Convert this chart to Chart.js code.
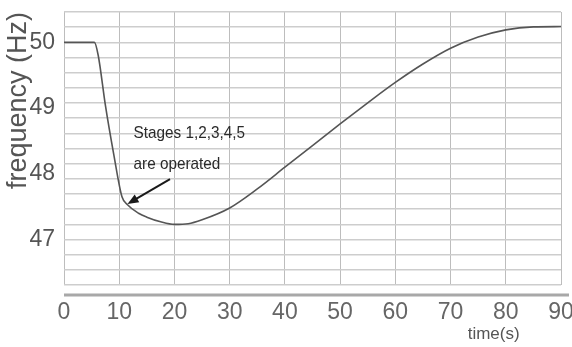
<!DOCTYPE html>
<html>
<head>
<meta charset="utf-8">
<script src="https://cdn.jsdelivr.net/npm/chart.js@4.4.1/dist/chart.umd.min.js"></script>
<style>
  html, body { margin: 0; padding: 0; background: #fff; }
  canvas { display: block; }
</style>
</head>
<body>
<canvas id="freqChart" width="572" height="347"></canvas>
<script>
// Data
const timeS = [0, 5.5, 6.2, 7.5, 9, 10.5, 11.5, 13.5, 15, 17.5, 20, 22.5, 25, 30, 35, 40, 45, 50, 55, 60, 65, 70, 75, 80, 85, 90];
const freqHz = [50, 50, 49.8, 49.04, 48.3, 47.65, 47.53, 47.4, 47.34, 47.27, 47.23, 47.24, 47.3, 47.48, 47.77, 48.1, 48.43, 48.76, 49.08, 49.39, 49.67, 49.91, 50.08, 50.19, 50.235, 50.24];
const xTicks = [0, 10, 20, 30, 40, 50, 60, 70, 80, 90];
const yTicks = [47, 48, 49, 50];

// Annotation (data coordinates)
const noteLines = ['Stages 1,2,3,4,5', 'are operated'];
const noteAt = [12.6, 48.61];
const noteLine2 = 48.15;
const arrowFrom = [19.2, 47.92];
const arrowTo = [11.5, 47.54];

// the printed grid doesn't line up with the labels: 13 rows per 3 Hz
const GRID_STEP = 3 / 13;
const Y_MAX = 50 + 2 * GRID_STEP;
const Y_MIN = 47 - 3 * GRID_STEP;

const tickFont = { family: '"Liberation Sans", Arial, sans-serif', size: 23 };

const extras = {
  id: 'extras',
  afterDraw(chart) {
    const ctx = chart.ctx;
    const xs = chart.scales.x, ys = chart.scales.y;
    const area = chart.chartArea;
    ctx.save();
    // separate x axis bar under the grid
    ctx.strokeStyle = '#a8a8a8';
    ctx.lineWidth = 3;
    ctx.beginPath();
    ctx.moveTo(area.left, area.bottom + 10);
    ctx.lineTo(area.right + 8, area.bottom + 10);
    ctx.stroke();

    // x axis title
    ctx.fillStyle = '#555';
    ctx.font = '17px "Liberation Sans", Arial, sans-serif';
    ctx.textAlign = 'center';
    ctx.textBaseline = 'middle';
    ctx.fillText('time(s)', xs.getPixelForValue(77.8), area.bottom + 49);

    // note text, a bit condensed
    ctx.fillStyle = '#2a2a2a';
    ctx.font = '17px "Liberation Sans", Arial, sans-serif';
    ctx.textAlign = 'left';
    const tx = xs.getPixelForValue(noteAt[0]);
    ctx.save();
    ctx.translate(tx, 0);
    ctx.scale(0.9, 1);
    ctx.fillText(noteLines[0], 0, ys.getPixelForValue(noteAt[1]));
    ctx.fillText(noteLines[1], 0, ys.getPixelForValue(noteLine2));
    ctx.restore();

    // arrow
    const x1 = xs.getPixelForValue(arrowFrom[0]), y1 = ys.getPixelForValue(arrowFrom[1]);
    const x2 = xs.getPixelForValue(arrowTo[0]), y2 = ys.getPixelForValue(arrowTo[1]);
    const ang = Math.atan2(y2 - y1, x2 - x1);
    ctx.strokeStyle = '#1a1a1a';
    ctx.fillStyle = '#1a1a1a';
    ctx.lineWidth = 2;
    ctx.beginPath();
    ctx.moveTo(x1, y1);
    ctx.lineTo(x2 - 8 * Math.cos(ang), y2 - 8 * Math.sin(ang));
    ctx.stroke();
    ctx.beginPath();
    ctx.moveTo(x2, y2);
    ctx.lineTo(x2 - 11 * Math.cos(ang) + 4.5 * Math.sin(ang), y2 - 11 * Math.sin(ang) - 4.5 * Math.cos(ang));
    ctx.lineTo(x2 - 11 * Math.cos(ang) - 4.5 * Math.sin(ang), y2 - 11 * Math.sin(ang) + 4.5 * Math.cos(ang));
    ctx.closePath();
    ctx.fill();
    ctx.restore();
  }
};

const freqChart = new Chart(document.getElementById('freqChart'), {
  type: 'line',
  data: {
    datasets: [{
      data: timeS.map((t, i) => ({ x: t, y: freqHz[i] })),
      borderColor: '#555',
      borderWidth: 1.6,
      pointRadius: 0,
      cubicInterpolationMode: 'monotone',
      fill: false
    }]
  },
  options: {
    responsive: false,
    animation: false,
    devicePixelRatio: 1,
    layout: { padding: { top: 12, right: 11, left: 0, bottom: 0 } },
    plugins: { legend: { display: false }, tooltip: { enabled: false } },
    scales: {
      x: {
        type: 'linear',
        min: 0,
        max: 90,
        afterBuildTicks: s => { s.ticks = xTicks.map(v => ({ value: v })); },
        afterFit: s => { s.height = 62; s.paddingLeft = 0; s.paddingRight = 0; },
        ticks: { color: '#666', font: tickFont, padding: 14, maxRotation: 0 },
        grid: { color: '#bdbdbd', lineWidth: 1, drawTicks: false },
        border: { display: false }
      },
      y: {
        position: 'left',
        min: Y_MIN,
        max: Y_MAX,
        afterBuildTicks: s => { s.ticks = yTicks.map(v => ({ value: v })); },
        afterFit: s => { s.width = 64; s.paddingTop = 0; s.paddingBottom = 0; },
        ticks: { color: '#555', font: tickFont, padding: 9 },
        grid: { display: false, drawTicks: false },
        border: { display: false },
        title: {
          display: true,
          text: 'frequency (Hz)',
          align: 'end',
          color: '#555',
          font: { family: '"Liberation Sans", Arial, sans-serif', size: 27 },
          padding: { top: 2, bottom: 0 }
        }
      },
      yg: {
        position: 'left',
        min: Y_MIN,
        max: Y_MAX,
        afterBuildTicks: s => {
          const t = [];
          for (let i = 0; i <= 18; i++) t.push({ value: Y_MAX - i * GRID_STEP });
          s.ticks = t;
        },
        afterFit: s => { s.width = 0; s.paddingTop = 0; s.paddingBottom = 0; },
        ticks: { display: false },
        grid: { color: '#cdcdcd', lineWidth: 1.6, drawTicks: false },
        border: { display: false }
      }
    }
  },
  plugins: [extras]
});
</script>
</body>
</html>
